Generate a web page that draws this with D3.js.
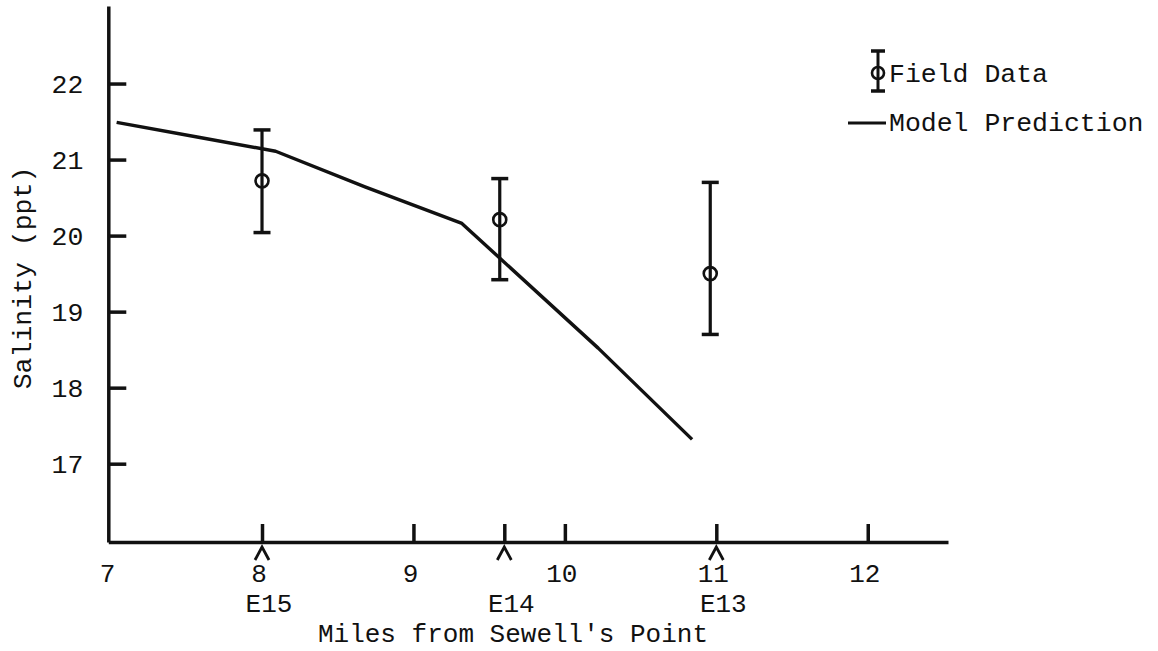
<html>
  <head>
    <script src="https://cdn.jsdelivr.net/npm/d3@7"></script>
    <style>
      body { margin: 0; background: #ffffff; }
      text { fill: #111111; }
    </style>
  </head>
  <body>
    <div id="vis"></div>
  <script>
    // Field data: stations with mean salinity and error bar range (ppt)
    var stations = ["E15", "E14", "E13"];
    var stationMiles = [8.0, 9.57, 10.96];
    var stationTicks = [8.0, 9.6, 11.0];
    var fieldMean = [20.72, 20.21, 19.5];
    var fieldHigh = [21.39, 20.75, 20.7];
    var fieldLow = [20.04, 19.42, 18.7];

    // Model prediction line
    var modelMiles = [7.04, 7.59, 8.09, 8.68, 9.32, 10.22, 10.84];
    var modelSalinity = [21.49, 21.29, 21.11, 20.64, 20.16, 18.52, 17.32];

    // Axis ticks
    var xTickMarks = [8, 9, 9.6, 10, 11, 12];
    var xTickLabels = [7, 8, 9, 10, 11, 12];
    var yTickValues = [17, 18, 19, 20, 21, 22];

    var width = 1158;
    var height = 651;
    var mono = "'Liberation Mono', 'Courier New', monospace";

    var svg = d3
      .select("#vis")
      .append("svg")
      .attr("width", width)
      .attr("height", height)
      .style("display", "block");

    svg.append("rect").attr("width", width).attr("height", height).attr("fill", "#ffffff");

    // scales (7 .. 12.53 miles, 15.97 .. 23.02 ppt)
    var x = d3.scaleLinear().domain([6.985, 12.53]).range([108.3, 948]);
    var y = d3.scaleLinear().domain([15.97, 23.02]).range([542, 6]);

    // y axis, ticks pointing inward
    var yAxis = svg
      .append("g")
      .attr("transform", "translate(" + x(6.985) + ",0)")
      .call(
        d3.axisLeft(y)
          .tickValues(yTickValues)
          .tickFormat(d3.format("d"))
          .tickSizeInner(-18)
          .tickSizeOuter(0)
          .tickPadding(25)
      );
    yAxis.select(".domain").attr("stroke", "#111").attr("stroke-width", 3.5);
    yAxis.selectAll(".tick line").attr("stroke", "#111").attr("stroke-width", 3.5);
    yAxis
      .selectAll(".tick text")
      .attr("font-family", mono)
      .attr("font-size", "26.5px")
      .attr("fill", "#111");

    // x axis, ticks pointing up
    var xAxis = svg
      .append("g")
      .attr("transform", "translate(0," + y(15.97) + ")")
      .call(
        d3.axisBottom(x)
          .tickValues(xTickMarks)
          .tickSizeInner(-18)
          .tickSizeOuter(0)
          .tickFormat("")
      );
    xAxis.select(".domain").attr("stroke", "#111").attr("stroke-width", 3.5);
    xAxis.selectAll(".tick line").attr("stroke", "#111").attr("stroke-width", 3.5);

    // x tick labels
    svg
      .selectAll(".xlab")
      .data(xTickLabels)
      .enter()
      .append("text")
      .attr("class", "xlab")
      .attr("x", function (d) {
        return x(d) - 3;
      })
      .attr("y", 582)
      .attr("text-anchor", "middle")
      .attr("font-family", mono)
      .attr("font-size", "26px")
      .text(function (d) {
        return d;
      });

    // station carets and names
    svg
      .selectAll(".caret")
      .data(stationTicks)
      .enter()
      .append("path")
      .attr("class", "caret")
      .attr("d", function (d) {
        var cx = x(d);
        return "M" + (cx - 7) + ",560 L" + cx + ",547 L" + (cx + 7) + ",560";
      })
      .attr("fill", "none")
      .attr("stroke", "#111")
      .attr("stroke-width", 2.8);

    svg
      .selectAll(".stname")
      .data(stations)
      .enter()
      .append("text")
      .attr("class", "stname")
      .attr("x", function (d, i) {
        return x(stationTicks[i]) + 7;
      })
      .attr("y", 612)
      .attr("text-anchor", "middle")
      .attr("font-family", mono)
      .attr("font-size", "26px")
      .text(function (d) {
        return d;
      });

    // axis titles
    svg
      .append("text")
      .attr("x", 513)
      .attr("y", 642)
      .attr("text-anchor", "middle")
      .attr("font-family", mono)
      .attr("font-size", "26px")
      .text("Miles from Sewell's Point");

    svg
      .append("text")
      .attr("transform", "translate(31,278) rotate(-90)")
      .attr("text-anchor", "middle")
      .attr("font-family", mono)
      .attr("font-size", "26.5px")
      .text("Salinity (ppt)");

    // model prediction
    var line = d3
      .line()
      .x(function (d) {
        return x(d[0]);
      })
      .y(function (d) {
        return y(d[1]);
      });

    svg
      .append("path")
      .datum(d3.zip(modelMiles, modelSalinity))
      .attr("d", line)
      .attr("fill", "none")
      .attr("stroke", "#111")
      .attr("stroke-width", 3.4)
      .attr("stroke-linejoin", "round");

    // field data error bars
    var bars = svg
      .selectAll(".field")
      .data(stations)
      .enter()
      .append("g")
      .attr("class", "field");

    bars
      .append("line")
      .attr("x1", function (d, i) { return x(stationMiles[i]); })
      .attr("x2", function (d, i) { return x(stationMiles[i]); })
      .attr("y1", function (d, i) { return y(fieldHigh[i]); })
      .attr("y2", function (d, i) { return y(fieldLow[i]); })
      .attr("stroke", "#111")
      .attr("stroke-width", 3.2);

    [fieldHigh, fieldLow].forEach(function (arr) {
      bars
        .append("line")
        .attr("x1", function (d, i) { return x(stationMiles[i]) - 8.5; })
        .attr("x2", function (d, i) { return x(stationMiles[i]) + 8.5; })
        .attr("y1", function (d, i) { return y(arr[i]); })
        .attr("y2", function (d, i) { return y(arr[i]); })
        .attr("stroke", "#111")
        .attr("stroke-width", 3.5);
    });

    bars
      .append("circle")
      .attr("cx", function (d, i) { return x(stationMiles[i]); })
      .attr("cy", function (d, i) { return y(fieldMean[i]); })
      .attr("r", 6.5)
      .attr("fill", "none")
      .attr("stroke", "#111")
      .attr("stroke-width", 2.6);

    // legend
    var legend = svg.append("g");
    legend.append("line").attr("x1", 878).attr("x2", 878).attr("y1", 51).attr("y2", 91)
      .attr("stroke", "#111").attr("stroke-width", 3);
    legend.append("line").attr("x1", 871).attr("x2", 885).attr("y1", 51).attr("y2", 51)
      .attr("stroke", "#111").attr("stroke-width", 3.5);
    legend.append("line").attr("x1", 871).attr("x2", 885).attr("y1", 91).attr("y2", 91)
      .attr("stroke", "#111").attr("stroke-width", 3.5);
    legend.append("circle").attr("cx", 878).attr("cy", 73).attr("r", 6)
      .attr("fill", "none").attr("stroke", "#111").attr("stroke-width", 2.6);
    legend.append("text").attr("x", 889).attr("y", 82)
      .attr("font-family", mono).attr("font-size", "26.5px").text("Field Data");

    legend.append("line").attr("x1", 848).attr("x2", 886).attr("y1", 123).attr("y2", 123)
      .attr("stroke", "#111").attr("stroke-width", 3);
    legend.append("text").attr("x", 889).attr("y", 131)
      .attr("font-family", mono).attr("font-size", "26.5px").text("Model Prediction");
  </script>
  </body>
</html>
